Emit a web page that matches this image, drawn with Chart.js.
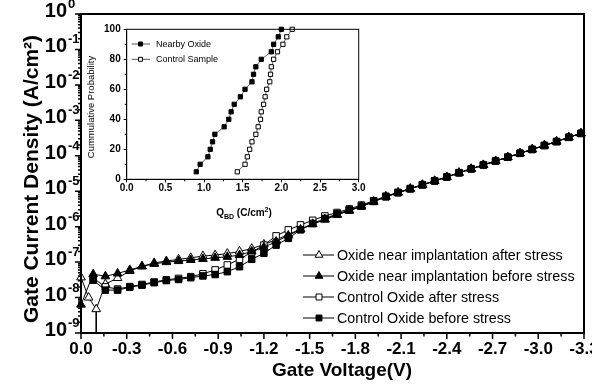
<!DOCTYPE html>
<html><head><meta charset="utf-8">
<script src="https://cdn.jsdelivr.net/npm/chart.js@4.4.1/dist/chart.umd.min.js"></script>
<style>
html,body{margin:0;padding:0;background:#fff;overflow:hidden;width:592px;height:388px;}
#c1{position:absolute;left:0;top:0;}
#c2{position:absolute;left:80px;top:20px;}
</style></head><body>
<canvas id="c1" width="620" height="388"></canvas>
<canvas id="c2" width="290" height="205"></canvas>
<script>
// ---------------- DATA ----------------
const xMajorTicks = [0.0,-0.3,-0.6,-0.9,-1.2,-1.5,-1.8,-2.1,-2.4,-2.7,-3.0,-3.3];
const yDecadeExponents = [0,-1,-2,-3,-4,-5,-6,-7,-8,-9];

const seriesNames = [
  'Oxide near implantation after stress',
  'Oxide near implantation before stress',
  'Control Oxide after stress',
  'Control Oxide before stress'
];

// Gate voltage (V) shared by three series
const voltage = [0,-0.08,-0.16,-0.24,-0.32,-0.40,-0.48,-0.56,-0.64,-0.72,-0.80,-0.88,-0.96,-1.04,-1.12,-1.20,-1.28,-1.36,-1.44,-1.52,-1.60,-1.68,-1.76,-1.84,-1.92,-2.00,-2.08,-2.16,-2.24,-2.32,-2.40,-2.48,-2.56,-2.64,-2.72,-2.80,-2.88,-2.96,-3.04,-3.12,-3.20,-3.28];
// Gate voltage (V) for "near implantation after stress"
const voltageNearAfter = [0,-0.05,-0.10,-0.16,-0.24,-0.32,-0.40,-0.48,-0.56,-0.64,-0.72,-0.80,-0.88,-0.96,-1.04,-1.12,-1.20,-1.28,-1.36,-1.44,-1.52,-1.60,-1.68,-1.76,-1.84,-1.92,-2.00,-2.08,-2.16,-2.24,-2.32,-2.40,-2.48,-2.56,-2.64,-2.72,-2.80,-2.88,-2.96,-3.04,-3.12,-3.20,-3.28];

// Gate current density (A/cm^2)
const nearAfter = [3.7e-8,1.0e-8,4.7e-9,2.4e-8,3.55e-8,5.6e-8,7.6e-8,9.5e-8,1.07e-7,1.2e-7,1.32e-7,1.48e-7,1.58e-7,1.74e-7,2.0e-7,2.4e-7,3.16e-7,4.27e-7,6.0e-7,8.5e-7,1.17e-6,1.58e-6,2.14e-6,2.82e-6,3.7e-6,5.1e-6,7.1e-6,9.2e-6,1.18e-5,1.52e-5,1.96e-5,2.52e-5,3.32e-5,4.28e-5,5.52e-5,7.1e-5,9.15e-5,1.18e-4,1.52e-4,1.96e-4,2.52e-4,3.32e-4,4.28e-4];
const nearBefore = [6.3e-9,4.57e-8,3.98e-8,4.79e-8,6.03e-8,7.59e-8,8.91e-8,1.0e-7,1.07e-7,1.15e-7,1.23e-7,1.32e-7,1.41e-7,1.58e-7,2.0e-7,2.63e-7,3.80e-7,5.62e-7,8.32e-7,1.20e-6,1.62e-6,2.19e-6,2.88e-6,3.72e-6,5.0e-6,7.0e-6,9.1e-6,1.17e-5,1.51e-5,1.95e-5,2.51e-5,3.31e-5,4.27e-5,5.5e-5,7.08e-5,9.12e-5,1.17e-4,1.51e-4,1.95e-4,2.51e-4,3.31e-4,4.27e-4];
const controlAfter = [null,3.55e-8,2.0e-8,1.74e-8,2.04e-8,2.34e-8,2.75e-8,3.16e-8,3.47e-8,3.89e-8,4.68e-8,6.03e-8,8.32e-8,1.20e-7,1.91e-7,3.02e-7,5.50e-7,8.13e-7,1.12e-6,1.51e-6,2.0e-6,2.51e-6,3.16e-6,4.07e-6,5.37e-6,7.24e-6,9.3e-6,1.19e-5,1.53e-5,1.97e-5,2.54e-5,3.35e-5,4.31e-5,5.55e-5,7.15e-5,9.2e-5,1.18e-4,1.52e-4,1.96e-4,2.53e-4,3.33e-4,4.3e-4];
const controlBefore = [null,3.1e-8,1.62e-8,1.62e-8,1.95e-8,2.24e-8,2.63e-8,3.02e-8,3.24e-8,3.63e-8,4.07e-8,4.47e-8,5.37e-8,7.41e-8,1.20e-7,1.78e-7,3.02e-7,4.68e-7,8.13e-7,1.23e-6,1.70e-6,2.29e-6,2.95e-6,3.80e-6,5.13e-6,6.92e-6,9.0e-6,1.16e-5,1.50e-5,1.94e-5,2.50e-5,3.29e-5,4.25e-5,5.48e-5,7.05e-5,9.08e-5,1.17e-4,1.50e-4,1.94e-4,2.50e-4,3.30e-4,4.25e-4];

// Inset: Q_BD distribution
const insetNames = ['Nearby Oxide','Control Sample'];
const probability = [5,10,15,20,25,30,35,40,45,50,55,60,65,70,75,80,85,90,95,100];
const qbdNearby  = [0.90,0.95,1.05,1.08,1.11,1.14,1.26,1.32,1.35,1.39,1.47,1.53,1.62,1.64,1.67,1.74,1.87,1.90,1.96,2.00];
const qbdControl = [1.43,1.53,1.56,1.59,1.62,1.67,1.70,1.73,1.74,1.77,1.79,1.81,1.85,1.86,1.87,1.90,1.95,2.02,2.07,2.14];
const insetXTicks = [0.0,0.5,1.0,1.5,2.0,2.5,3.0];
const insetYTicks = [0,20,40,60,80,100];

// ---------------- HELPERS ----------------
const FAM = '"Liberation Sans", Arial, Helvetica, sans-serif';
function pts(xs, ys){ return xs.map((x,i)=>({x:x, y:ys[i]})); }
function marker(ctx, style, filled, x, y, r){
  ctx.beginPath();
  if(style==='triangle'){
    for(let i=0;i<3;i++){const a=i*2*Math.PI/3;const px=x+Math.sin(a)*r,py=y-Math.cos(a)*r;if(i)ctx.lineTo(px,py);else ctx.moveTo(px,py);}
    ctx.closePath();
  } else { const s=r*Math.SQRT1_2; ctx.rect(x-s,y-s,2*s,2*s); }
  ctx.fillStyle = filled?'#000':'#fff'; ctx.fill();
  ctx.lineWidth=1; ctx.strokeStyle='#000'; ctx.stroke();
}
const styleOf = [
  {style:'triangle', filled:false},
  {style:'triangle', filled:true},
  {style:'rect', filled:false},
  {style:'rect', filled:true}
];

function ds(label, data, st, r){
  return {label, data, showLine:true, borderColor:'#000', borderWidth:1, tension:0,
    pointStyle:st.style, pointRadius:r, pointHoverRadius:r, pointBackgroundColor: st.filled?'#000':'#fff',
    pointBorderColor:'#000', pointBorderWidth:1, clip:false, spanGaps:false};
}

// ---------------- MAIN CHART ----------------
const mainDecor = {
  id:'mainDecor',
  afterDraw(chart){
    const {ctx, chartArea:a, scales:{x,y}} = chart;
    ctx.save();
    ctx.strokeStyle='#000'; ctx.fillStyle='#000';
    ctx.lineWidth=2;
    ctx.strokeRect(a.left,a.top,a.right-a.left,a.bottom-a.top);
    ctx.lineWidth=1.5;
    ctx.beginPath();
    xMajorTicks.forEach((v,i)=>{
      const px=x.getPixelForValue(v);
      ctx.moveTo(px,a.bottom); ctx.lineTo(px,a.bottom+6);
      if(i<xMajorTicks.length-1){
        const m=x.getPixelForValue((v+xMajorTicks[i+1])/2);
        ctx.moveTo(m,a.bottom); ctx.lineTo(m,a.bottom+3.5);
      }
    });
    yDecadeExponents.forEach(e=>{
      const py=y.getPixelForValue(Math.pow(10,e));
      ctx.moveTo(a.left,py); ctx.lineTo(a.left-6,py);
      if(e<0){ for(let k=2;k<=9;k++){const pm=y.getPixelForValue(k*Math.pow(10,e)); ctx.moveTo(a.left,pm); ctx.lineTo(a.left-3,pm);} }
    });
    ctx.stroke();
    // y tick labels 10^n
    yDecadeExponents.forEach(e=>{
      const py=y.getPixelForValue(Math.pow(10,e));
      ctx.font='bold 20px '+FAM; ctx.textAlign='right'; ctx.textBaseline='alphabetic';
      ctx.fillText('10', 67, py+3);
      ctx.font='bold 13px '+FAM; ctx.textAlign='left';
      ctx.fillText(String(e), 68, py-6);
    });
    // axis titles
    ctx.save();
    ctx.translate(32,179); ctx.rotate(-Math.PI/2);
    ctx.font='bold 21px '+FAM; ctx.textAlign='center'; ctx.textBaseline='middle';
    ctx.fillText('Gate Current Density (A/cm\u00B2)',0,0);
    ctx.restore();
    ctx.font='bold 19px '+FAM; ctx.textAlign='center'; ctx.textBaseline='middle';
    ctx.fillText('Gate Voltage(V)', 342, 371);
    // legend
    const rows=[255,276,297,318];
    ctx.font='14.3px '+FAM; ctx.textAlign='left'; ctx.textBaseline='middle';
    seriesNames.forEach((n,i)=>{
      ctx.strokeStyle='#000'; ctx.lineWidth=1;
      ctx.beginPath(); ctx.moveTo(303,rows[i]); ctx.lineTo(334,rows[i]); ctx.stroke();
      marker(ctx, styleOf[i].style, styleOf[i].filled, 319, rows[i], styleOf[i].style==='triangle'?4.5:4.2);
      ctx.fillStyle='#000';
      ctx.fillText(n, 337, rows[i]+1);
    });
    ctx.restore();
  }
};

new Chart(document.getElementById('c1'), {
  type:'line',
  data:{datasets:[
    ds(seriesNames[1], pts(voltage, nearBefore), styleOf[1], 5),
    ds(seriesNames[3], pts(voltage, controlBefore), styleOf[3], 4.6),
    ds(seriesNames[2], pts(voltage, controlAfter), styleOf[2], 4.6),
    ds(seriesNames[0], pts(voltageNearAfter, nearAfter), styleOf[0], 5),
    {label:'drop', data:[{x:voltageNearAfter[2], y:nearAfter[2]},{x:voltageNearAfter[2], y:1e-9}],
     showLine:true, borderColor:'#000', borderWidth:1, pointRadius:0, clip:false}
  ]},
  options:{
    responsive:false, animation:false, events:[],
    layout:{padding:{left:0, top:14, right:36, bottom:0}},
    plugins:{legend:{display:false}, tooltip:{enabled:false}},
    scales:{
      x:{type:'linear', min:-3.3, max:0, reverse:true,
         grid:{display:false, drawTicks:false}, border:{display:false},
         ticks:{color:'#000', font:{family:FAM, size:17, weight:'bold'}, padding:6, maxRotation:0, autoSkip:false,
                callback:(v)=>Number(v).toFixed(1)},
         afterBuildTicks:(s)=>{ s.ticks = xMajorTicks.map(v=>({value:v})); },
         afterFit:(s)=>{ s.height = 55; }},
      y:{type:'logarithmic', min:1e-9, max:1,
         grid:{display:false, drawTicks:false}, border:{display:false},
         ticks:{display:false},
         afterBuildTicks:(s)=>{ s.ticks = yDecadeExponents.map(e=>({value:Math.pow(10,e)})); },
         afterFit:(s)=>{ s.width = 81; }}
    }
  },
  plugins:[mainDecor]
});

// ---------------- INSET CHART ----------------
const insetDecor = {
  id:'insetDecor',
  afterDraw(chart){
    const {ctx, chartArea:a, scales:{x,y}} = chart;
    ctx.save();
    ctx.strokeStyle='#000'; ctx.lineWidth=1;
    ctx.strokeRect(a.left,a.top,a.right-a.left,a.bottom-a.top);
    ctx.beginPath();
    for(let i=0;i<insetXTicks.length-1;i++){const m=x.getPixelForValue((insetXTicks[i]+insetXTicks[i+1])/2); ctx.moveTo(m,a.bottom); ctx.lineTo(m,a.bottom+2);}
    for(let i=0;i<insetYTicks.length-1;i++){const m=y.getPixelForValue((insetYTicks[i]+insetYTicks[i+1])/2); ctx.moveTo(a.left,m); ctx.lineTo(a.left-2,m);}
    ctx.stroke();
    ctx.fillStyle='#000';
    // y title
    ctx.save(); ctx.translate(11,87); ctx.rotate(-Math.PI/2);
    ctx.font='9.5px '+FAM; ctx.textAlign='center'; ctx.textBaseline='middle';
    ctx.fillText('Cummulative Probability',0,0); ctx.restore();
    // x title Q_BD (C/cm^2)
    const parts=[['Q',10,0],['BD',7,3],[' (C/cm',10,0],['2',7,-4],[')',10,0]];
    let w=0; parts.forEach(p=>{ctx.font='bold '+p[1]+'px '+FAM; w+=ctx.measureText(p[0]).width;});
    let cx=164-w/2; ctx.textAlign='left'; ctx.textBaseline='alphabetic';
    parts.forEach(p=>{ctx.font='bold '+p[1]+'px '+FAM; ctx.fillText(p[0],cx,196+p[2]); cx+=ctx.measureText(p[0]).width;});
    // legend
    const rows=[24,39.3];
    ctx.font='9px '+FAM; ctx.textBaseline='middle';
    insetNames.forEach((n,i)=>{
      ctx.strokeStyle='#555'; ctx.lineWidth=1;
      ctx.beginPath(); ctx.moveTo(51.7,rows[i]); ctx.lineTo(70,rows[i]); ctx.stroke();
      marker(ctx,'rect', i===0, 60.5, rows[i], 2.8);
      ctx.fillStyle='#000'; ctx.fillText(n, 76, rows[i]+0.5);
    });
    ctx.restore();
  }
};
function ids(label, xs, filled){
  return {label, data:pts(xs, probability), showLine:true, borderColor:'#666', borderWidth:1, tension:0,
    pointStyle:'rect', pointRadius:3, pointBackgroundColor: filled?'#000':'#fff', pointBorderColor:'#000',
    pointBorderWidth:1, clip:false};
}
new Chart(document.getElementById('c2'), {
  type:'line',
  data:{datasets:[ ids(insetNames[0], qbdNearby, true), ids(insetNames[1], qbdControl, false) ]},
  options:{
    responsive:false, animation:false, events:[],
    layout:{padding:{left:0, top:9.3, right:11.3, bottom:0}},
    plugins:{legend:{display:false}, tooltip:{enabled:false}},
    scales:{
      x:{type:'linear', min:0, max:3,
         grid:{drawOnChartArea:false, drawTicks:true, tickLength:3, color:'#000'},
         border:{display:true, color:'#000', width:1},
         ticks:{color:'#000', font:{family:FAM, size:10, weight:'bold', lineHeight:1}, padding:1, maxRotation:0, autoSkip:false,
                callback:(v)=>Number(v).toFixed(1)},
         afterBuildTicks:(s)=>{ s.ticks = insetXTicks.map(v=>({value:v})); },
         afterFit:(s)=>{ s.height = 45.7; }},
      y:{type:'linear', min:0, max:100,
         grid:{drawOnChartArea:false, drawTicks:true, tickLength:3, color:'#000'},
         border:{display:true, color:'#000', width:1},
         ticks:{color:'#000', font:{family:FAM, size:10, weight:'bold'}, padding:3},
         afterBuildTicks:(s)=>{ s.ticks = insetYTicks.map(v=>({value:v})); },
         afterFit:(s)=>{ s.width = 46.7; }}
    }
  },
  plugins:[insetDecor]
});
</script>
</body></html>
